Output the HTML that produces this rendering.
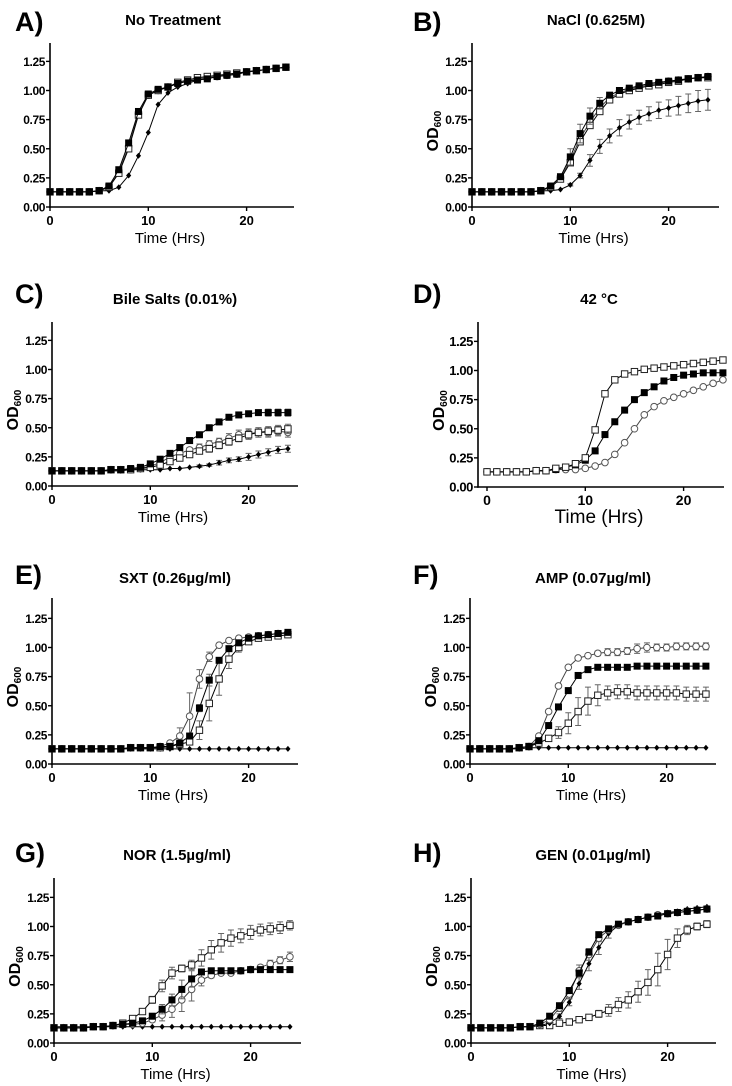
<!DOCTYPE html>
<html><head><meta charset="utf-8">
<style>
html,body{margin:0;padding:0;background:#fff;}
svg{display:block;font-family:"Liberation Sans",Arial,sans-serif;}
</style></head>
<body>
<svg id="fig" width="732" height="1086" viewBox="0 0 732 1086"></svg>
<script>
// ---- data (OD600 at t = 0..24 h) ----
const hours = [0,1,2,3,4,5,6,7,8,9,10,11,12,13,14,15,16,17,18,19,20,21,22,23,24];
const yTicks = [0,0.25,0.5,0.75,1.0,1.25];
const yTickLabels = ["0.00","0.25","0.50","0.75","1.00","1.25"];
const xTicks = [0,10,20];
const xTickLabels = ["0","10","20"];
const panelLetters = ["A)","B)","C)","D)","E)","F)","G)","H)"];
const panelTitles = ["No Treatment","NaCl (0.625M)","Bile Salts (0.01%)","42 °C","SXT (0.26µg/ml)","AMP (0.07µg/ml)","NOR (1.5µg/ml)","GEN (0.01µg/ml)"];

const A_fs=[.13,.13,.13,.13,.13,.14,.18,.32,.55,.82,.97,1.01,1.03,1.06,1.08,1.09,1.10,1.12,1.13,1.14,1.16,1.17,1.18,1.19,1.20];
const A_os=[.13,.13,.13,.13,.13,.14,.17,.29,.50,.79,.96,1.00,1.03,1.07,1.09,1.11,1.12,1.13,1.14,1.15,1.16,1.17,1.18,1.19,1.20];
const A_oc=[.13,.13,.13,.13,.13,.14,.17,.30,.52,.80,.96,1.00,1.03,1.06,1.08,1.10,1.11,1.12,1.13,1.14,1.16,1.17,1.18,1.19,1.20];
const A_dm=[.13,.13,.13,.13,.13,.14,.14,.17,.27,.44,.64,.88,.98,1.03,1.06,1.09,1.10,1.12,1.13,1.14,1.16,1.17,1.18,1.19,1.20];

const B_fs=[.13,.13,.13,.13,.13,.13,.13,.14,.18,.26,.43,.63,.78,.89,.96,1.00,1.02,1.04,1.06,1.07,1.08,1.09,1.10,1.11,1.12];
const B_os=[.13,.13,.13,.13,.13,.13,.13,.14,.17,.24,.38,.56,.70,.82,.92,.97,1.00,1.02,1.04,1.05,1.07,1.08,1.10,1.11,1.11];
const B_oc=[.13,.13,.13,.13,.13,.13,.13,.14,.17,.25,.40,.59,.73,.85,.94,.98,1.01,1.03,1.05,1.06,1.08,1.09,1.10,1.11,1.12];
const B_dm=[.13,.13,.13,.13,.13,.13,.13,.14,.14,.15,.19,.27,.40,.52,.61,.68,.73,.77,.80,.83,.85,.87,.89,.91,.92];
const B_fsErr=[0,0,0,0,0,0,0,0,0,.02,.07,.08,.07,.05,.02,0,0,0,0,0,0,0,0,0,0];
const B_dmErr=[0,0,0,0,0,0,0,0,0,0,.01,.02,.05,.06,.06,.07,.06,.06,.06,.07,.07,.08,.08,.09,.09];

const C_fs=[.13,.13,.13,.13,.13,.13,.14,.14,.15,.16,.19,.23,.28,.33,.39,.44,.50,.55,.59,.61,.62,.63,.63,.63,.63];
const C_oc=[.13,.13,.13,.13,.13,.13,.14,.14,.14,.15,.17,.20,.25,.28,.31,.33,.36,.38,.41,.44,.45,.46,.46,.47,.46];
const C_os=[.13,.13,.13,.13,.13,.13,.14,.14,.14,.15,.16,.18,.21,.24,.27,.30,.32,.35,.38,.41,.44,.46,.47,.48,.49];
const C_dm=[.13,.13,.13,.13,.13,.13,.13,.13,.14,.14,.14,.14,.15,.15,.16,.17,.18,.20,.22,.23,.25,.27,.29,.31,.32];
const C_fsErr=[0,0,0,0,0,0,0,0,0,0,0,0,0,0,0,0,0,0,0,0,.01,.02,.03,.03,.03];
const C_ocErr=[0,0,0,0,0,0,0,0,0,0,0,.01,.02,.02,.02,.03,.03,.03,.04,.04,.04,.04,.04,.04,.04];
const C_osErr=[0,0,0,0,0,0,0,0,0,0,0,0,.01,.02,.02,.02,.03,.03,.03,.03,.04,.04,.04,.04,.04];
const C_dmErr=[0,0,0,0,0,0,0,0,0,0,0,0,0,0,0,.01,.01,.02,.02,.02,.03,.03,.03,.03,.03];

const D_os=[.13,.13,.13,.13,.13,.14,.14,.16,.17,.20,.25,.49,.80,.92,.97,.99,1.01,1.02,1.03,1.04,1.05,1.06,1.07,1.08,1.09];
const D_fs=[.13,.13,.13,.13,.13,.14,.14,.15,.17,.19,.23,.31,.45,.56,.66,.75,.81,.86,.91,.94,.96,.97,.98,.98,.98];
const D_oc=[.13,.13,.13,.13,.13,.14,.14,.15,.15,.15,.16,.18,.21,.28,.38,.50,.62,.69,.74,.77,.80,.83,.86,.89,.92];

const E_oc=[.13,.13,.13,.13,.13,.13,.13,.13,.14,.14,.14,.15,.18,.24,.41,.73,.92,1.02,1.06,1.08,1.09,1.10,1.11,1.12,1.12];
const E_fs=[.13,.13,.13,.13,.13,.13,.13,.13,.14,.14,.14,.15,.15,.18,.24,.48,.72,.89,.99,1.04,1.08,1.10,1.11,1.12,1.13];
const E_os=[.13,.13,.13,.13,.13,.13,.13,.13,.14,.14,.14,.14,.15,.17,.19,.29,.52,.73,.90,1.00,1.05,1.08,1.09,1.10,1.11];
const E_dm=[.13,.13,.13,.13,.13,.13,.13,.13,.13,.13,.13,.13,.13,.13,.13,.13,.13,.13,.13,.13,.13,.13,.13,.13,.13];
const E_ocErr=[0,0,0,0,0,0,0,0,0,0,0,0,.01,.07,.20,.08,.04,.01,0,0,0,0,0,0,0];
const E_fsErr=[0,0,0,0,0,0,0,0,0,0,0,0,0,.01,.02,.03,.05,.02,.01,0,0,0,0,0,0];
const E_osErr=[0,0,0,0,0,0,0,0,0,0,0,0,0,.01,.02,.08,.15,.14,.08,.04,.02,0,0,0,0];

const F_oc=[.13,.13,.13,.13,.13,.14,.15,.24,.45,.67,.83,.91,.93,.95,.96,.96,.97,.99,1.00,1.00,1.00,1.01,1.01,1.01,1.01];
const F_fs=[.13,.13,.13,.13,.13,.14,.15,.20,.33,.49,.63,.76,.81,.83,.83,.83,.83,.84,.84,.84,.84,.84,.84,.84,.84];
const F_os=[.13,.13,.13,.13,.13,.14,.15,.18,.22,.27,.35,.45,.54,.59,.61,.62,.62,.61,.61,.61,.61,.61,.60,.60,.60];
const F_dm=[.13,.13,.13,.13,.13,.13,.14,.14,.14,.14,.14,.14,.14,.14,.14,.14,.14,.14,.14,.14,.14,.14,.14,.14,.14];
const F_ocErr=[0,0,0,0,0,0,0,0,0,0,0,0,0,.02,.03,.03,.03,.04,.04,.03,.03,.03,.03,.03,.03];
const F_osErr=[0,0,0,0,0,0,0,0,.02,.05,.09,.12,.12,.09,.06,.06,.06,.06,.06,.06,.06,.06,.06,.06,.06];

const G_os=[.13,.13,.13,.13,.14,.14,.15,.17,.21,.27,.37,.49,.60,.64,.67,.73,.80,.86,.90,.92,.95,.97,.98,.99,1.01];
const G_fs=[.13,.13,.13,.13,.14,.14,.15,.16,.17,.19,.23,.29,.37,.46,.55,.61,.62,.62,.62,.62,.63,.63,.63,.63,.63];
const G_oc=[.13,.13,.13,.13,.14,.14,.15,.16,.16,.17,.20,.24,.29,.37,.46,.54,.58,.60,.60,.62,.63,.65,.68,.71,.74];
const G_dm=[.14,.14,.14,.14,.14,.14,.14,.14,.14,.14,.14,.14,.14,.14,.14,.14,.14,.14,.14,.14,.14,.14,.14,.14,.14];
const G_osErr=[0,0,0,0,0,0,0,0,0,.01,.03,.05,.05,.03,.04,.07,.08,.08,.07,.06,.06,.05,.05,.05,.04];
const G_fsErr=[0,0,0,0,0,0,0,0,0,0,.02,.04,.05,.08,.07,.02,.01,0,0,0,0,0,0,0,0];
const G_ocErr=[0,0,0,0,0,0,0,0,0,0,.02,.05,.07,.10,.10,.05,.02,.01,.01,.01,.02,.02,.03,.03,.04];

const H_fs=[.13,.13,.13,.13,.13,.14,.14,.17,.23,.32,.45,.60,.78,.93,.98,1.02,1.04,1.06,1.08,1.09,1.11,1.12,1.13,1.14,1.15];
const H_oc=[.13,.13,.13,.13,.13,.14,.14,.16,.20,.30,.42,.62,.76,.90,.97,1.01,1.04,1.06,1.08,1.10,1.11,1.12,1.13,1.14,1.15];
const H_dm=[.13,.13,.13,.13,.13,.14,.14,.15,.17,.23,.35,.51,.68,.82,.94,1.01,1.04,1.06,1.08,1.10,1.12,1.13,1.15,1.16,1.17];
const H_os=[.13,.13,.13,.13,.13,.14,.14,.15,.15,.17,.18,.20,.22,.25,.28,.33,.37,.44,.52,.63,.76,.90,.97,1.00,1.02];
const H_ocErr=[0,0,0,0,0,0,0,0,.01,.03,.04,.05,.05,.03,.02,0,0,0,0,0,0,0,0,0,0];
const H_dmErr=[0,0,0,0,0,0,0,0,0,.02,.03,.05,.06,.06,.04,.02,0,0,0,0,0,0,0,0,0];
const H_osErr=[0,0,0,0,0,0,0,0,0,0,0,0,.01,.03,.05,.06,.07,.09,.11,.14,.13,.08,.04,.03,.03];

// ---- panel layout ----
const panels = [
 {ax:50, x0:50, xe:294, y0:207, top:43, lx:15, ly:31, tx:173, ty:25, od:false, series:[["dm",A_dm],["oc",A_oc],["os",A_os],["fs",A_fs]]},
 {ax:472,x0:472,xe:719, y0:207, top:43, lx:413,ly:31, tx:596, ty:25, od:true, series:[["dm",B_dm,B_dmErr],["oc",B_oc],["os",B_os],["fs",B_fs,B_fsErr]]},
 {ax:52, x0:52, xe:298, y0:486, top:322,lx:15, ly:303,tx:175, ty:304,od:true, series:[["dm",C_dm,C_dmErr],["oc",C_oc,C_ocErr],["os",C_os,C_osErr],["fs",C_fs,C_fsErr]]},
 {ax:478,x0:487,xe:724, y0:487, top:322,lx:413,ly:303,tx:599, ty:304,od:true, big:true, series:[["oc",D_oc],["fs",D_fs],["os",D_os]]},
 {ax:52, x0:52, xe:298, y0:764, top:598,lx:15, ly:584,tx:175, ty:583,od:true, series:[["dm",E_dm],["oc",E_oc,E_ocErr],["os",E_os,E_osErr],["fs",E_fs,E_fsErr]]},
 {ax:470,x0:470,xe:716, y0:764, top:598,lx:413,ly:584,tx:593, ty:583,od:true, series:[["dm",F_dm],["oc",F_oc,F_ocErr],["os",F_os,F_osErr],["fs",F_fs]]},
 {ax:54, x0:54, xe:301, y0:1043,top:878,lx:15, ly:862,tx:177, ty:860,od:true, series:[["dm",G_dm],["oc",G_oc,G_ocErr],["os",G_os,G_osErr],["fs",G_fs,G_fsErr]]},
 {ax:471,x0:471,xe:716, y0:1043,top:878,lx:413,ly:862,tx:593, ty:860,od:true, series:[["os",H_os,H_osErr],["dm",H_dm,H_dmErr],["oc",H_oc,H_ocErr],["fs",H_fs]]}
];
const PX_PER_HR = 9.83;
const PX_PER_OD = 116.5;
const NS = "http://www.w3.org/2000/svg";
const svg = document.getElementById("fig");
function mk(tag, attrs, parent){
  const e = document.createElementNS(NS, tag);
  for (const k in attrs) e.setAttribute(k, attrs[k]);
  parent.appendChild(e);
  return e;
}
const seriesNames = {fs:"filled-square-series", os:"open-square-series", oc:"open-circle-series", dm:"diamond-series"};

panels.forEach((p, pi) => {
  const xs = t => p.x0 + t * PX_PER_HR;
  const ys = v => p.y0 - v * PX_PER_OD;
  const g = mk("g", {}, svg);
  
  

  const letter = mk("text", {x:p.lx, y:p.ly, "font-size":27, "font-weight":"bold"}, g);
  letter.textContent = panelLetters[pi];
  
  

  const title = mk("text", {x:p.tx, y:p.ty, "font-size":15, "font-weight":"bold", "text-anchor":"middle"}, g);
  title.textContent = panelTitles[pi];
  
  

  const yax = mk("line", {x1:p.ax, y1:p.top, x2:p.ax, y2:p.y0+0.75, stroke:"#000", "stroke-width":1.6}, g);
  
  
  const xax = mk("line", {x1:p.ax-0.8, y1:p.y0, x2:p.xe, y2:p.y0, stroke:"#000", "stroke-width":1.6}, g);
  
  

  const tf = p.big ? 13 : 12;
  yTicks.forEach((v, i) => {
    mk("line", {x1:p.ax-4, y1:ys(v), x2:p.ax, y2:ys(v), stroke:"#000", "stroke-width":1.4}, g);
    const t = mk("text", {x:p.ax-5, y:ys(v)+4.5, "font-size":tf, "font-weight":"bold", "text-anchor":"end", "letter-spacing":"-0.4"}, g);
    t.textContent = yTickLabels[i];
    
    
  });
  xTicks.forEach((v, i) => {
    mk("line", {x1:xs(v), y1:p.y0, x2:xs(v), y2:p.y0+4, stroke:"#000", "stroke-width":1.4}, g);
    const t = mk("text", {x:xs(v), y:p.y0+18, "font-size":tf+1, "font-weight":"bold", "text-anchor":"middle"}, g);
    t.textContent = xTickLabels[i];
    
    
  });
  const xl = mk("text", {x:(p.ax+p.xe)/2 - 2, y:p.y0 + 36, "font-size":p.big?19:15, "text-anchor":"middle"}, g);
  xl.textContent = "Time (Hrs)";
  
  

  if (p.od) {
    const cy = (p.top + p.y0)/2 + 6;
    const cx = p.ax - 34;
    const yl = mk("text", {x:cx, y:cy, "font-size":16, "font-weight":"bold", "text-anchor":"middle", transform:`rotate(-90 ${cx} ${cy})`}, g);
    
    
    const s1 = mk("tspan", {}, yl); s1.textContent = "OD";
    const s2 = mk("tspan", {"font-size":10, dy:3}, yl); s2.textContent = "600";
  }

  p.series.forEach(s => {
    const kind = s[0], vals = s[1], err = s[2];
    const sg = mk("g", {}, g);
    
    
    if (err) {
      vals.forEach((v, i) => {
        if (!err[i]) return;
        const x = xs(hours[i]);
        mk("path", {d:`M${x},${ys(v-err[i])}V${ys(v+err[i])}M${x-3},${ys(v+err[i])}H${x+3}M${x-3},${ys(v-err[i])}H${x+3}`, stroke:"#666", "stroke-width":1, fill:"none"}, sg);
      });
    }
    const d = vals.map((v, i) => (i ? "L" : "M") + xs(hours[i]).toFixed(1) + "," + ys(v).toFixed(1)).join("");
    const ln = mk("path", {d:d, fill:"none", stroke: kind==="oc" ? "#444" : "#000", "stroke-width":1}, sg);
    
    
    vals.forEach((v, i) => {
      const x = xs(hours[i]), y = ys(v);
      let m;
      if (kind === "fs") m = mk("rect", {x:x-3.5, y:y-3.5, width:7, height:7, fill:"#000"}, sg);
      else if (kind === "os") m = mk("rect", {x:x-3.2, y:y-3.2, width:6.4, height:6.4, fill:"#fff", stroke:"#222", "stroke-width":1}, sg);
      else if (kind === "oc") m = mk("circle", {cx:x, cy:y, r:3.3, fill:"#fff", stroke:"#555", "stroke-width":1}, sg);
      else m = mk("path", {d:`M${x},${y-3}L${x+2.6},${y}L${x},${y+3}L${x-2.6},${y}Z`, fill:"#000"}, sg);
      
      
    });
  });
});
</script>
</body></html>
